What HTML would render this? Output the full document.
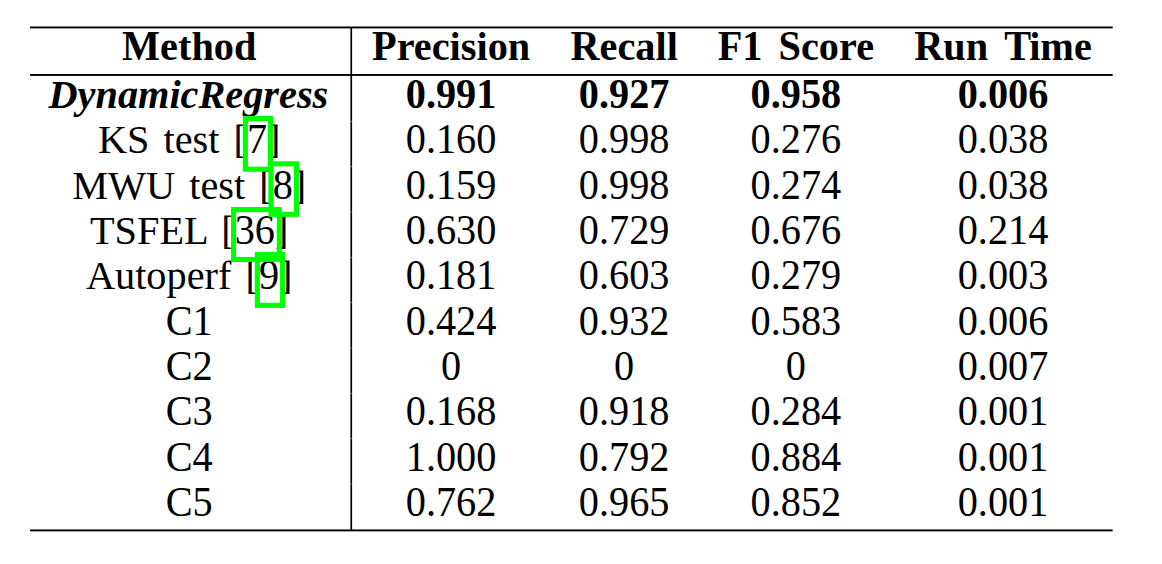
<!DOCTYPE html>
<html lang="en"><head><meta charset="utf-8"><title>Table</title>
<style>
html,body{margin:0;padding:0;background:#fff;}
body{width:1162px;height:564px;position:relative;overflow:hidden;
 font-family:"Liberation Serif","Times New Roman",serif;font-size:40.30px;color:#000;}
.c{position:absolute;width:400px;text-align:center;line-height:40px;height:40px;white-space:nowrap;word-spacing:4.0px;transform-origin:50% 33.00px;}
.h{font-weight:bold;word-spacing:6.0px;}
.b{font-weight:bold;}
.bi{font-weight:bold;font-style:italic;}
.nb{font-weight:bold;transform:scaleY(1.025);}
.n{transform:scaleY(1.025);}
.k{display:inline-block;line-height:40px;transform-origin:50% 33.00px;transform:scaleY(1.030);}
.d{transform:scaleY(1.025);}
svg{position:absolute;left:0;top:0;}
</style></head><body>

<div class="c h" style="left:-10.80px;top:27.00px"><span class="k">M</span>ethod</div>
<div class="c h" style="left:251.10px;top:27.00px"><span class="k">P</span>recision</div>
<div class="c h" style="left:424.20px;top:27.00px"><span class="k">R</span>ecall</div>
<div class="c h" style="left:595.90px;top:27.00px"><span class="k">F</span><span class="k">1</span> <span class="k">S</span>core</div>
<div class="c h" style="left:803.00px;top:27.00px"><span class="k">R</span>un <span class="k" style="margin-right:-2px">T</span>ime</div>
<div class="c bi" style="left:-11.60px;top:75.00px">DynamicRegress</div>
<div class="c nb" style="left:251.10px;top:75.00px">0.991</div>
<div class="c nb" style="left:424.20px;top:75.00px">0.927</div>
<div class="c nb" style="left:595.90px;top:75.00px">0.958</div>
<div class="c nb" style="left:803.00px;top:75.00px">0.006</div>
<div class="c" style="left:-10.80px;top:120.00px">KS test [<span class="k d">7</span>]</div>
<div class="c n" style="left:251.10px;top:120.00px">0.160</div>
<div class="c n" style="left:424.20px;top:120.00px">0.998</div>
<div class="c n" style="left:595.90px;top:120.00px">0.276</div>
<div class="c n" style="left:803.00px;top:120.00px">0.038</div>
<div class="c" style="left:-10.80px;top:166.00px">MWU test [<span class="k d">8</span>]</div>
<div class="c n" style="left:251.10px;top:166.00px">0.159</div>
<div class="c n" style="left:424.20px;top:166.00px">0.998</div>
<div class="c n" style="left:595.90px;top:166.00px">0.274</div>
<div class="c n" style="left:803.00px;top:166.00px">0.038</div>
<div class="c" style="left:-10.80px;top:211.00px">TSFEL [<span class="k d">36</span>]</div>
<div class="c n" style="left:251.10px;top:211.00px">0.630</div>
<div class="c n" style="left:424.20px;top:211.00px">0.729</div>
<div class="c n" style="left:595.90px;top:211.00px">0.676</div>
<div class="c n" style="left:803.00px;top:211.00px">0.214</div>
<div class="c" style="left:-10.80px;top:256.00px">Autoperf [<span class="k d">9</span>]</div>
<div class="c n" style="left:251.10px;top:256.00px">0.181</div>
<div class="c n" style="left:424.20px;top:256.00px">0.603</div>
<div class="c n" style="left:595.90px;top:256.00px">0.279</div>
<div class="c n" style="left:803.00px;top:256.00px">0.003</div>
<div class="c n" style="left:-10.80px;top:302.00px">C1</div>
<div class="c n" style="left:251.10px;top:302.00px">0.424</div>
<div class="c n" style="left:424.20px;top:302.00px">0.932</div>
<div class="c n" style="left:595.90px;top:302.00px">0.583</div>
<div class="c n" style="left:803.00px;top:302.00px">0.006</div>
<div class="c n" style="left:-10.80px;top:347.00px">C2</div>
<div class="c n" style="left:251.10px;top:347.00px">0</div>
<div class="c n" style="left:424.20px;top:347.00px">0</div>
<div class="c n" style="left:595.90px;top:347.00px">0</div>
<div class="c n" style="left:803.00px;top:347.00px">0.007</div>
<div class="c n" style="left:-10.80px;top:392.00px">C3</div>
<div class="c n" style="left:251.10px;top:392.00px">0.168</div>
<div class="c n" style="left:424.20px;top:392.00px">0.918</div>
<div class="c n" style="left:595.90px;top:392.00px">0.284</div>
<div class="c n" style="left:803.00px;top:392.00px">0.001</div>
<div class="c n" style="left:-10.80px;top:438.00px">C4</div>
<div class="c n" style="left:251.10px;top:438.00px">1.000</div>
<div class="c n" style="left:424.20px;top:438.00px">0.792</div>
<div class="c n" style="left:595.90px;top:438.00px">0.884</div>
<div class="c n" style="left:803.00px;top:438.00px">0.001</div>
<div class="c n" style="left:-10.80px;top:483.00px">C5</div>
<div class="c n" style="left:251.10px;top:483.00px">0.762</div>
<div class="c n" style="left:424.20px;top:483.00px">0.965</div>
<div class="c n" style="left:595.90px;top:483.00px">0.852</div>
<div class="c n" style="left:803.00px;top:483.00px">0.001</div>
<svg width="1162" height="564" viewBox="0 0 1162 564">
<rect x="30" y="26.5" width="1082.7" height="1.9" fill="#000"/>
<rect x="30" y="74.0" width="1082.7" height="1.9" fill="#000"/>
<rect x="30" y="529.45" width="1082.7" height="1.9" fill="#000"/>
<rect x="350.4" y="27.40" width="1.7" height="93.75" fill="#000"/>
<rect x="350.4" y="121.45" width="1.7" height="45.04" fill="#000"/>
<rect x="350.4" y="166.79" width="1.7" height="45.04" fill="#000"/>
<rect x="350.4" y="212.13" width="1.7" height="45.04" fill="#000"/>
<rect x="350.4" y="257.47" width="1.7" height="45.04" fill="#000"/>
<rect x="350.4" y="302.81" width="1.7" height="45.04" fill="#000"/>
<rect x="350.4" y="348.15" width="1.7" height="45.04" fill="#000"/>
<rect x="350.4" y="393.49" width="1.7" height="45.04" fill="#000"/>
<rect x="350.4" y="438.83" width="1.7" height="45.04" fill="#000"/>
<rect x="350.4" y="484.17" width="1.7" height="46.33" fill="#000"/>
<rect x="245.35" y="118.50" width="25.15" height="50.71" fill="none" stroke="#00ff00" stroke-width="5.1"/>
<rect x="270.95" y="163.88" width="25.47" height="50.41" fill="none" stroke="#00ff00" stroke-width="5.1"/>
<rect x="233.58" y="209.61" width="45.75" height="49.84" fill="none" stroke="#00ff00" stroke-width="5.1"/>
<rect x="257.35" y="254.61" width="25.24" height="50.71" fill="none" stroke="#00ff00" stroke-width="5.1"/>
</svg>
</body></html>
